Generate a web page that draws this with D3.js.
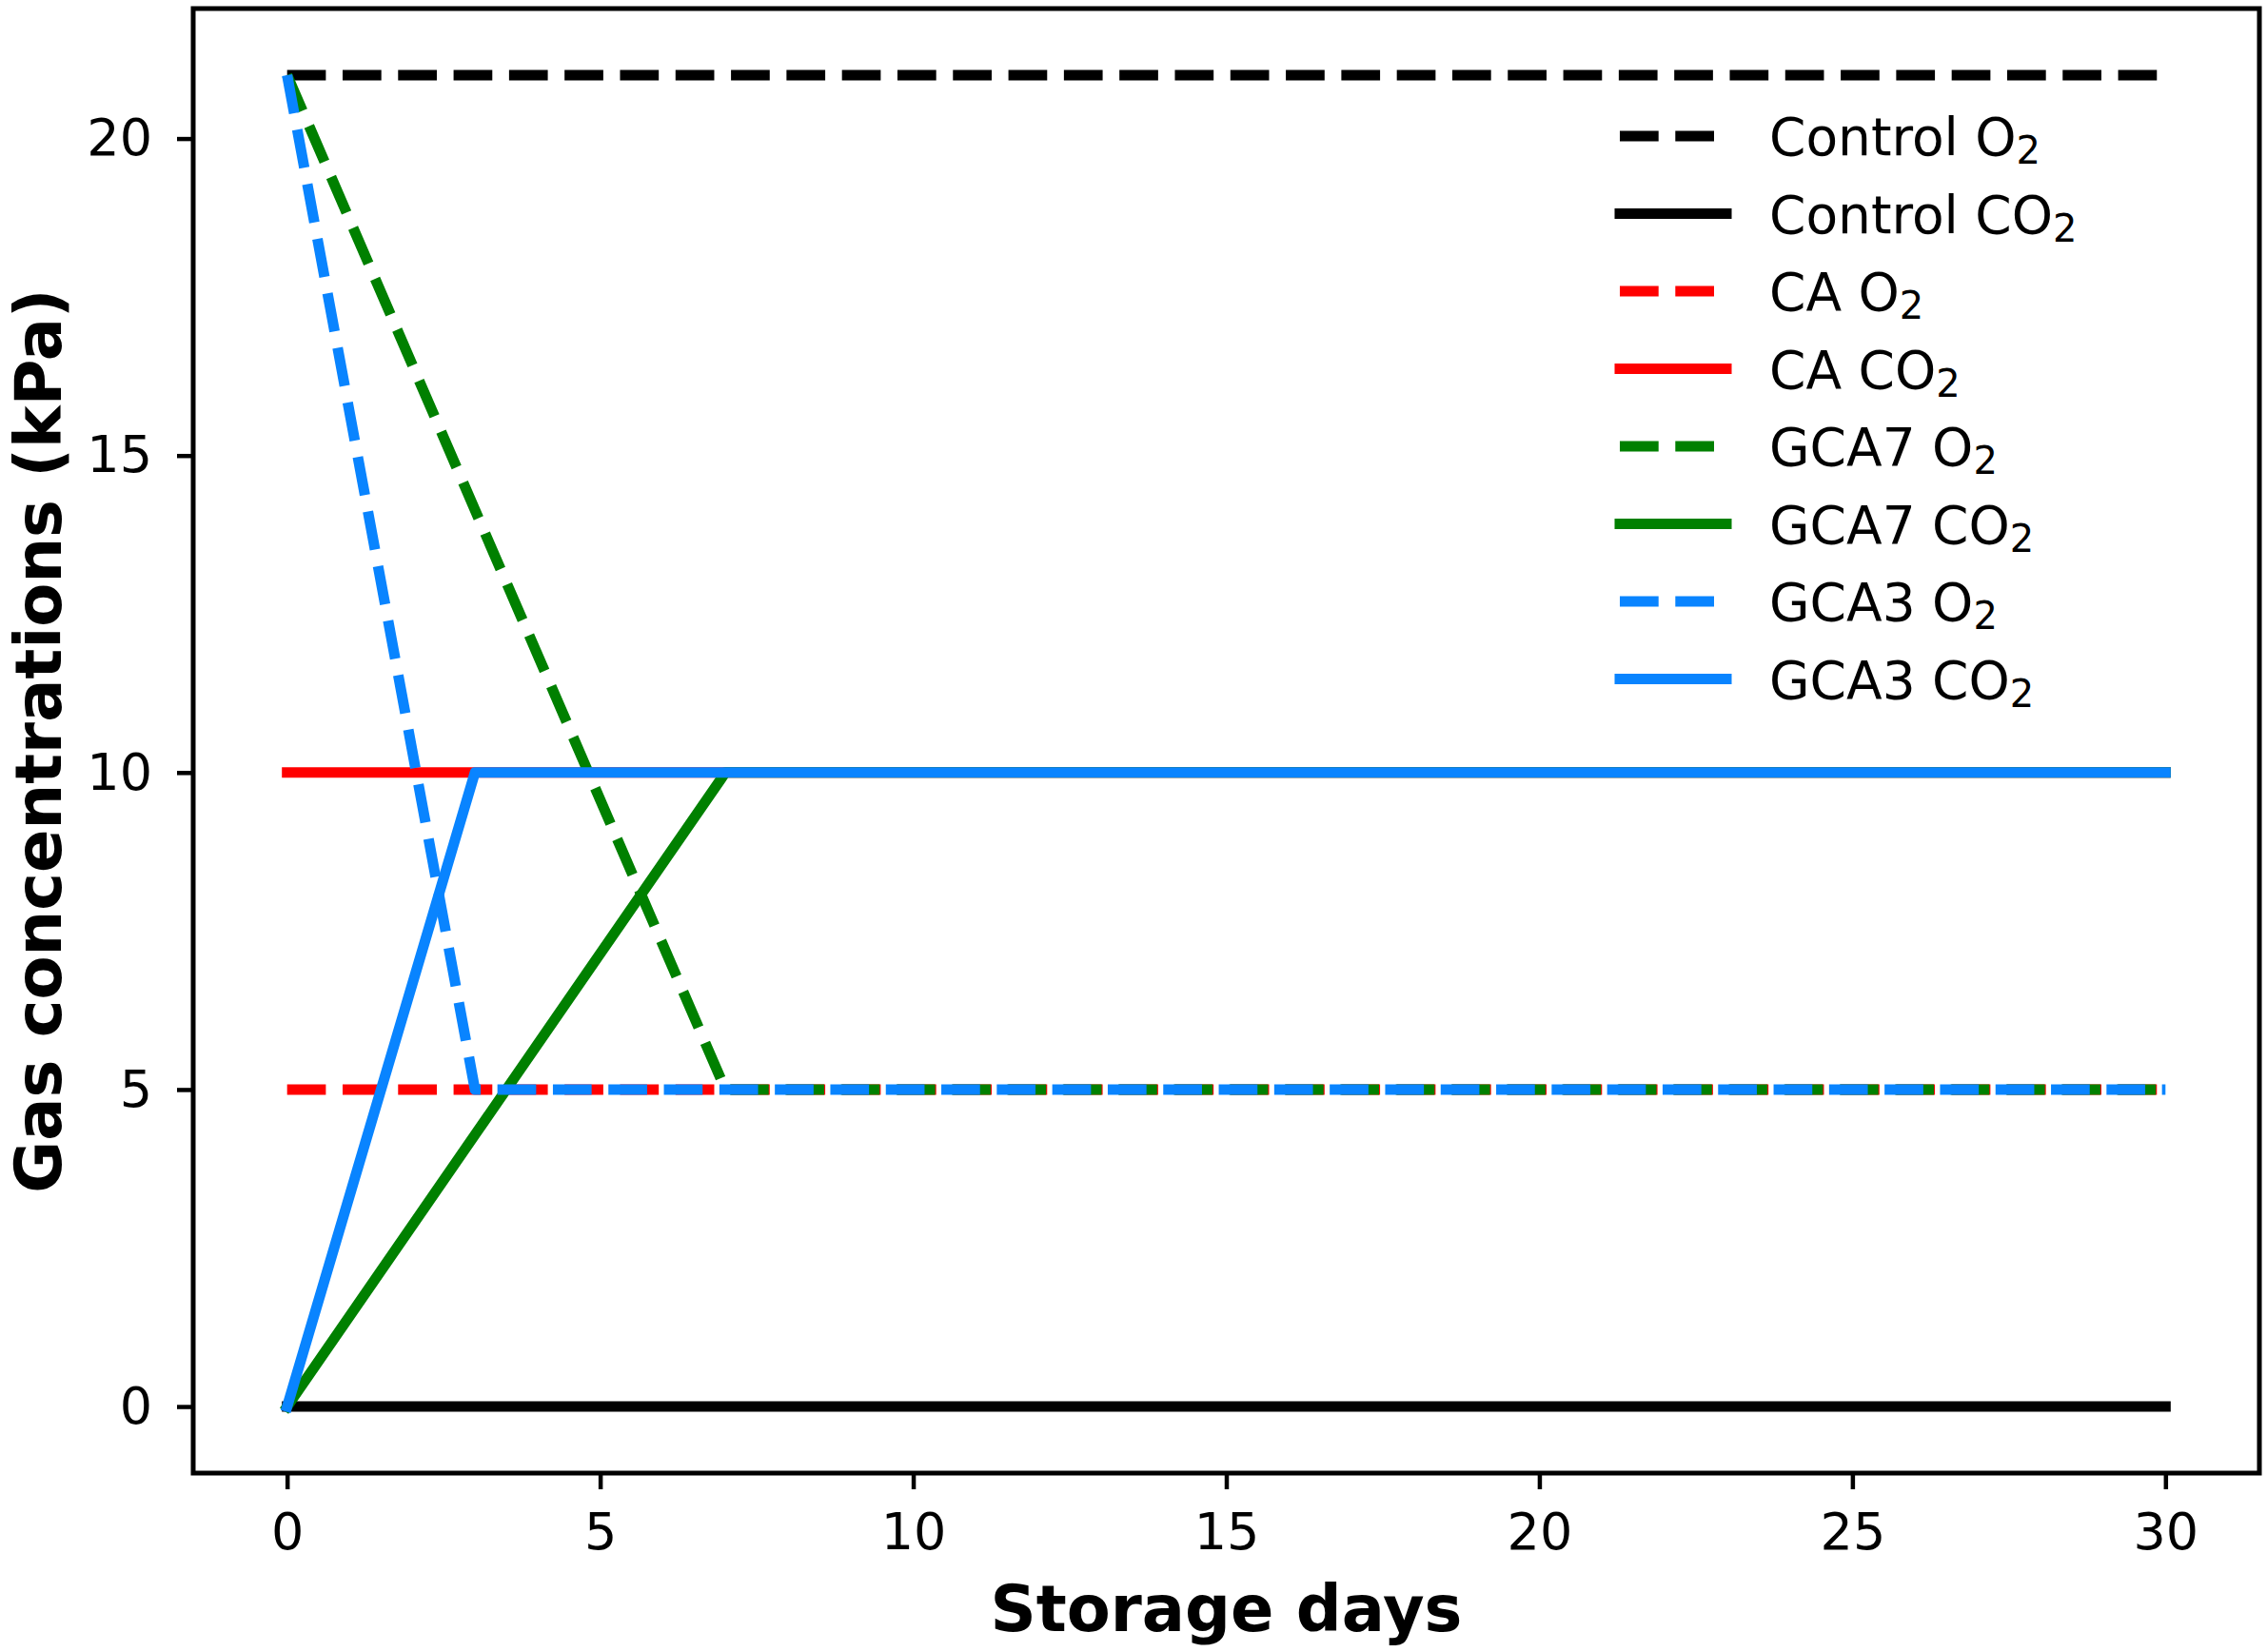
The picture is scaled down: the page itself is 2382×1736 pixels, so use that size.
<!DOCTYPE html>
<html>
<head>
<meta charset="utf-8">
<script src="https://cdn.jsdelivr.net/npm/d3@7"></script>
<style>
  body { margin: 0; background: #ffffff; }
  svg { display: block; }
</style>
</head>
<body>
<script>
/* gas concentrations (kPa) against storage days, break points only */
var controlO2  = [{day: 0, kpa: 21}, {day: 30, kpa: 21}];
var controlCO2 = [{day: 0, kpa: 0},  {day: 30, kpa: 0}];
var caO2       = [{day: 0, kpa: 5},  {day: 30, kpa: 5}];
var caCO2      = [{day: 0, kpa: 10}, {day: 30, kpa: 10}];
var gca7O2     = [{day: 0, kpa: 21}, {day: 7, kpa: 5},  {day: 30, kpa: 5}];
var gca7CO2    = [{day: 0, kpa: 0},  {day: 7, kpa: 10}, {day: 30, kpa: 10}];
var gca3O2     = [{day: 0, kpa: 21}, {day: 3, kpa: 5},  {day: 30, kpa: 5}];
var gca3CO2    = [{day: 0, kpa: 0},  {day: 3, kpa: 10}, {day: 30, kpa: 10}];

var treatments = ["Control", "Control", "CA", "CA", "GCA7", "GCA7", "GCA3", "GCA3"];
var gases      = ["O", "CO", "O", "CO", "O", "CO", "O", "CO"];

var xTicks = [0, 5, 10, 15, 20, 25, 30];
var yTicks = [0, 5, 10, 15, 20];

var width = 2382;
var height = 1736;
var margin = {top: 9, left: 203, right: 8, bottom: 188};
var lw = 11;
var font = "DejaVu Sans";

// line styles, one per series
var colours = ["#000000", "#000000", "#ff0000", "#ff0000", "#008000", "#008000", "#0984ff", "#0984ff"];
var dashed  = [true, false, true, false, true, false, true, false];
var series  = [controlO2, controlCO2, caO2, caCO2, gca7O2, gca7CO2, gca3O2, gca3CO2];

var svg = d3.select("body")
  .append("svg")
  .attr("width", width)
  .attr("height", height);

var xScale = d3.scaleLinear()
  .domain([-1.5, 31.5])
  .range([margin.left, width - margin.right]);

var yScale = d3.scaleLinear()
  .domain([-1.05, 22.05])
  .range([height - margin.bottom, margin.top]);

var line = d3.line()
  .x(function(d) { return xScale(d.day); })
  .y(function(d) { return yScale(d.kpa); });

// data lines
series.forEach(function(s, i) {
  svg.append("path")
    .attr("d", line(s))
    .attr("fill", "none")
    .attr("stroke", colours[i])
    .attr("stroke-width", lw)
    .attr("stroke-linejoin", "round")
    .attr("stroke-linecap", dashed[i] ? "butt" : "square")
    .attr("stroke-dasharray", dashed[i] ? "40.7,17.6" : null);
});

// axes
var xAxis = svg.append("g")
  .attr("transform", `translate(0,${height - margin.bottom})`)
  .call(d3.axisBottom(xScale).tickValues(xTicks).tickSize(17).tickSizeOuter(0).tickPadding(25));

var yAxis = svg.append("g")
  .attr("transform", `translate(${margin.left},0)`)
  .call(d3.axisLeft(yScale).tickValues(yTicks).tickSize(17).tickSizeOuter(0).tickPadding(26));

[xAxis, yAxis].forEach(function(ax) {
  ax.select(".domain").remove();
  ax.selectAll(".tick line").attr("stroke", "#000").attr("stroke-width", 4.5);
  ax.selectAll(".tick text")
    .attr("fill", "#000")
    .style("font-family", font)
    .style("font-size", "54px");
});

// frame
svg.append("rect")
  .attr("x", margin.left)
  .attr("y", margin.top)
  .attr("width", width - margin.left - margin.right)
  .attr("height", height - margin.top - margin.bottom)
  .attr("fill", "none")
  .attr("stroke", "#000")
  .attr("stroke-width", 5);

// axis titles
svg.append("text")
  .attr("x", (margin.left + width - margin.right) / 2)
  .attr("y", 1714)
  .attr("text-anchor", "middle")
  .style("font-family", font)
  .style("font-weight", "bold")
  .style("font-size", "67px")
  .text("Storage days");

svg.append("text")
  .attr("transform", `translate(64,${(margin.top + height - margin.bottom) / 2}) rotate(-90)`)
  .attr("text-anchor", "middle")
  .style("font-family", font)
  .style("font-weight", "bold")
  .style("font-size", "67px")
  .text("Gas concentrations (kPa)");

// legend
var legend = svg.append("g").attr("transform", "translate(1702,143)");
var rowGap = 81.5;

treatments.forEach(function(t, i) {
  var row = legend.append("g").attr("transform", `translate(0,${i * rowGap})`);
  row.append("line")
    .attr("x1", 0)
    .attr("x2", 112)
    .attr("stroke", colours[i])
    .attr("stroke-width", lw)
    .attr("stroke-linecap", dashed[i] ? "butt" : "square")
    .attr("stroke-dasharray", dashed[i] ? "40.7,17.6" : null);
  var label = row.append("text")
    .attr("x", 157)
    .attr("y", 20)
    .style("font-family", font)
    .style("font-size", "55px")
    .attr("fill", "#000");
  label.append("tspan").text(t + " " + gases[i]);
  label.append("tspan")
    .attr("dy", 9)
    .style("font-size", "40px")
    .text("2");
});
</script>
</body>
</html>
